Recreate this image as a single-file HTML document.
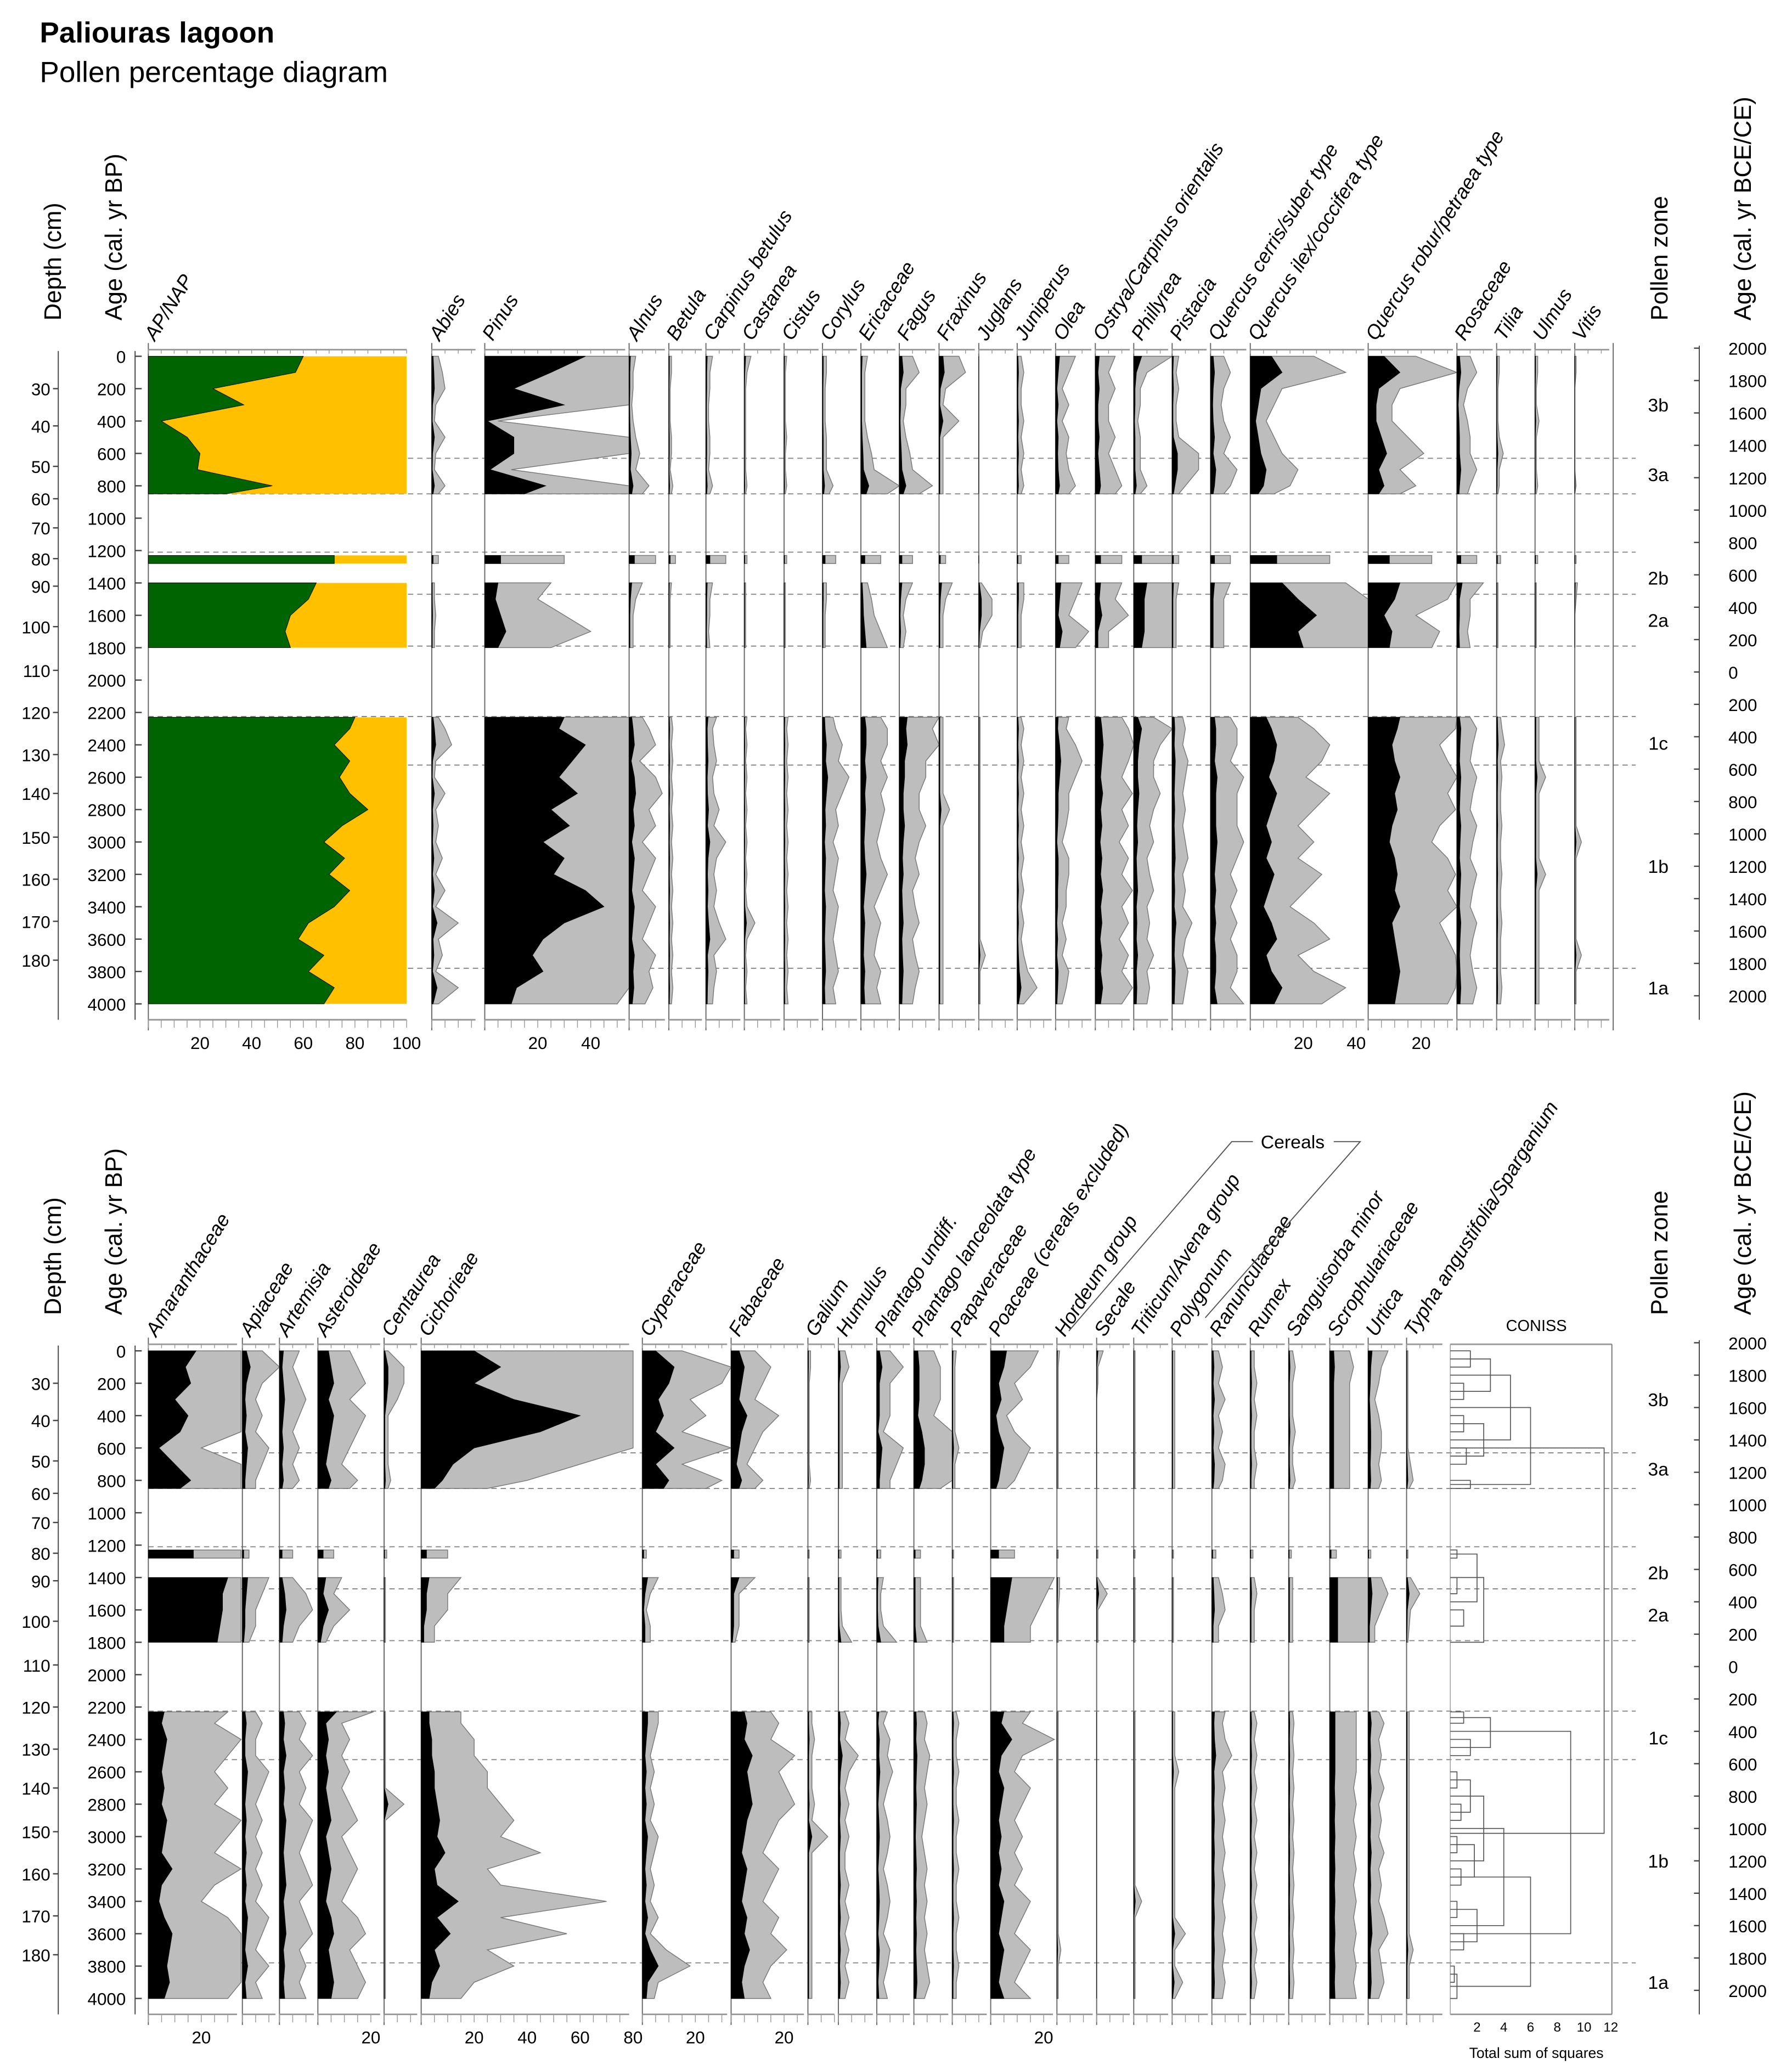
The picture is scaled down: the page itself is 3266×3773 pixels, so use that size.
<!DOCTYPE html>
<html><head><meta charset="utf-8"><style>
html,body{margin:0;padding:0;background:#fff;}
svg{display:block;font-family:"Liberation Sans",Arial,sans-serif;}
</style></head><body>
<svg id="chart" xmlns="http://www.w3.org/2000/svg" width="3266" height="3773" viewBox="0 0 1353 1563">
<rect x="0" y="0" width="1353" height="1563" fill="#fff"/>
<text x="30" y="32" font-size="22" font-weight="bold">Paliouras lagoon</text>
<text x="30" y="62" font-size="22">Pollen percentage diagram</text>
<g id="root"></g>
</svg>
<script>
const ages=[0,100,200,300,400,500,600,700,800,850,1230,1280,1400,1500,1600,1700,1800,2230,2300,2400,2500,2600,2700,2800,2900,3000,3100,3200,3300,3400,3500,3600,3700,3800,3900,4000];
const ap=[60,57,25,37,5,15,20,19,48,30,72,72,65,62,55,53,55,80,78,72,78,74,78,85,75,68,76,70,78,72,62,58,68,62,72,68];
const pinus=[38,25,11,30,1,11,11,2,23,15,6,6,5,4,6,8,5,30,28,38,33,28,35,25,32,22,30,26,38,45,30,22,18,22,12,10];
const abies=[0.5,0.8,1,0.3,0.2,1,0.3,0.2,1,0.5,0.5,0.5,0.2,0.2,0.3,0.2,0.2,0.5,1,1.5,0.3,0.2,1,0.3,0.5,0.3,0.8,0.3,1,0.3,2,0.5,0.8,0.3,2,0.5];
const alnus=[0.5,0.3,0.3,0.2,0.3,0.5,0.8,0.5,1.5,1,2,2,1,0.5,0.3,0.3,0.3,1,1.5,2,0.8,2,2.5,1.5,2,1,2,1.5,1,2,1.5,1,2,1.5,1.8,1.2];
const betula=[0.2,0.2,0.1,0.1,0.1,0.2,0.2,0.1,0.3,0.2,0.5,0.5,0.2,0.1,0.1,0.1,0.1,0.2,0.3,0.2,0.3,0.2,0.3,0.2,0.3,0.2,0.3,0.2,0.3,0.2,0.3,0.2,0.3,0.2,0.3,0.2];
const carpinus=[0.5,0.3,0.3,0.2,0.2,0.3,0.3,0.2,0.5,0.3,1.5,1.5,0.5,0.3,0.3,0.2,0.3,0.8,0.5,0.6,0.8,0.5,0.6,1,0.6,1.5,0.8,0.6,0.8,0.6,1,1.5,0.6,0.8,0.6,0.5];
const castanea=[0.5,0.2,0.1,0.1,0.1,0.1,0.1,0.1,0.2,0.1,0.2,0.2,0.1,0.1,0.1,0.1,0.1,0.2,0.1,0.2,0.1,0.2,0.1,0.2,0.1,0.2,0.1,0.2,0.1,0.2,0.8,0.2,0.1,0.2,0.1,0.2];
const cistus=[0.2,0.1,0.1,0.1,0.1,0.2,0.1,0.1,0.2,0.1,0.2,0.2,0.1,0.1,0.1,0.1,0.1,0.3,0.2,0.3,0.2,0.3,0.2,0.3,0.2,0.3,0.2,0.3,0.2,0.3,0.2,0.3,0.2,0.3,0.2,0.3];
const corylus=[0.3,0.3,0.2,0.2,0.2,0.3,0.3,0.3,0.8,0.5,1,1,0.3,0.3,0.2,0.2,0.2,0.8,1,1.5,1.2,2,1.5,1,1.2,0.8,1.2,1,0.8,1.2,1,0.8,1,1.2,0.8,1];
const ericaceae=[0.5,0.3,0.3,0.3,0.3,0.5,0.8,1,3,2,1.5,1.5,0.5,0.8,1,1.5,2,1.5,2,2,1.5,2,1.5,1.8,1.5,1.2,1.5,2,1.5,1,1.5,1.2,1,1.5,1.2,1.5];
const fagus=[1,1.5,0.5,0.5,0.3,0.5,0.8,1,2.5,1.5,1,1,1,0.5,0.3,0.5,0.3,3,2.5,3,2,2,1.5,1.5,2,1.5,1.2,1.5,1,1.2,1.5,1,1.2,1.5,1.2,1];
const fraxinus=[1.5,2,0.5,0.3,1.5,0.3,0.3,0.3,0.3,0.3,0.5,0.5,1,0.5,0.3,0.3,0.3,0.3,0.3,0.3,0.3,0.3,0.3,0.8,0.3,0.3,0.3,0.3,0.3,0.3,0.3,0.3,0.3,0.3,0.3,0.3];
const juglans=[0,0,0,0,0,0,0,0,0,0,0,0,0.2,1,1,0.3,0.1,0.1,0.1,0.1,0.1,0.1,0.1,0.1,0.1,0.1,0.1,0.1,0.1,0.1,0.1,0.1,0.5,0.1,0.1,0.1];
const juniperus=[0.3,0.5,0.3,0.3,0.5,0.3,0.5,0.3,0.5,0.3,0.3,0.3,0.5,0.5,0.3,0.3,0.3,0.3,0.5,0.3,0.5,0.3,0.5,0.3,0.5,0.3,0.5,0.3,0.5,0.3,0.5,0.3,0.5,0.8,1.5,0.5];
const olea=[1.5,1,0.5,1,0.5,1,0.8,1,1.5,1,1,1,2,1.5,1,2.5,1.5,1,0.8,1.5,2,1.5,1,1,0.8,0.5,1,1,0.8,0.8,0.5,0.8,0.5,1,0.8,0.5];
const ostrya=[1.5,1,1.5,1,1,1.5,1,1.5,2,1.5,2,2,2,1.5,2.5,1,1,2,2.5,3,2.5,2,2.8,2,2.5,1.8,2.5,2,2.8,2,2.5,1.8,2.5,2,2.8,2];
const phillyrea=[3,1,0.5,0.5,0.3,0.5,0.5,0.5,1,0.5,3,3,5,4,4,4,3,1.5,3,2,1.5,1.5,2,1.5,1.2,1.5,1,1.2,1.5,1,1.2,1,1.5,1,1.2,1];
const pistacia=[0.5,0.3,0.5,0.3,0.3,0.5,2,2,1,0.5,0.5,0.5,0.5,0.3,0.3,0.3,0.3,0.8,1,0.8,1.2,1,0.8,1,0.8,1,1.2,0.8,1,0.8,1.5,1,0.8,1.2,1,0.8];
const qcerris=[1,1.5,1,0.8,1,1.5,1,2,1.5,1,1.5,1.5,1.5,1,1,1,1,1.5,2,2,1.5,2.5,2,2,2,2.5,2,1.5,2,1.5,2,1.5,2,2,1.5,2.5];
const qilex=[8,12,4,3,2,3,4,6,5,3,10,10,12,18,25,18,20,6,8,10,9,7,10,8,6,8,6,9,7,5,8,10,6,8,12,9];
const qrobur=[6,12,4,3,3,5,7,4,6,4,8,8,12,10,6,9,8,12,11,9,10,12,10,11,9,8,10,11,10,12,9,10,11,12,11,10];
const rosaceae=[1,1.5,0.8,0.5,0.8,1,1,1.5,1,0.8,1.5,1.5,2,1,1,0.8,1,1,1.5,1.2,1,1.5,1.2,1,1.5,1.2,1,1.5,1.2,1,1.5,1.2,1,1.2,1.5,1.2];
const tilia=[0.2,0.2,0.1,0.1,0.1,0.2,0.5,0.2,0.2,0.1,0.3,0.3,0.1,0.1,0.1,0.1,0.1,0.3,0.4,0.6,0.3,0.4,0.3,0.3,0.4,0.3,0.3,0.4,0.3,0.3,0.4,0.3,0.3,0.3,0.4,0.3];
const ulmus=[0.2,0.2,0.1,0.1,0.3,0.1,0.1,0.1,0.2,0.1,0.2,0.2,0.1,0.1,0.1,0.1,0.1,0.3,0.3,0.3,0.3,0.8,0.3,0.3,0.3,0.3,0.3,0.8,0.3,0.3,0.3,0.3,0.3,0.3,0.3,0.3];
const vitis=[0.1,0.1,0,0,0,0,0,0,0.1,0,0.1,0.1,0.2,0.1,0,0,0,0.1,0.1,0.1,0.1,0.1,0.1,0.1,0.1,0.5,0.1,0.1,0.1,0.1,0.1,0.1,0.5,0.1,0.1,0.1];

const amaranth=[18,14,16,10,15,12,4,10,16,12,17,17,30,28,28,27,26,6,5,7,6,5,6,5,7,6,5,9,5,4,6,9,8,7,8,6];
const apiaceae=[1.5,3,1.5,1,1.5,1,2,1.5,1,1,0.5,0.5,2,1.5,1,1,0.5,1,1.5,1,1,2,1.5,1,1.5,1,1.5,1,1.5,1,2,1.5,1,2,1,1.5];
const artemisia=[1.5,1,1.5,2,1.5,1,1.5,1,1.5,1,1,1,1,2,2.5,1.5,1,1.5,2,1.5,2.5,1.5,2,1.5,2.5,2,1.5,2,2.5,1.5,2,2.5,1.5,2,1.5,2];
const asteroideae=[4,5,6,4,6,5,4,3,5,4,2,2,3,2,4,2,1,7,3,4,3,4,3,4,5,3,4,5,4,3,5,6,4,5,6,5];
const centaurea=[0.3,1.5,1.5,1,0.3,0.3,0.3,0.3,0.5,0.3,0.2,0.2,0.1,0.1,0.1,0.1,0.1,0.1,0.1,0.1,0.1,0.1,0.1,1.5,0.1,0.1,0.1,0.1,0.1,0.1,0.1,0.1,0.1,0.1,0.1,0.1];
const cichorieae=[20,30,20,35,60,45,20,12,8,5,2,2,3,2,2,1,1,3,3,4,4,5,5,6,7,6,9,5,6,14,6,11,5,7,4,3];
const cyperaceae=[5,12,10,6,8,5,12,5,10,8,0.5,0.5,2,1,0.5,1,1,2,2,1.5,1,1.5,1,1.5,1,2,1.5,1,1.5,1,2,1,3,6,2,1.5];
const fabaceae=[3,5,4,3,6,4,3,2,4,3,1,1,3,1,1,1,0.5,5,6,5,8,6,7,8,6,5,4,6,5,4,6,5,7,5,4,5];
const galium=[0.2,0.2,0.1,0.1,0.1,0.1,0.1,0.1,0.2,0.1,0.1,0.1,0.1,0.1,0.1,0.1,0.1,0.3,0.3,0.5,0.3,0.3,0.3,0.5,0.3,1.5,0.3,0.3,0.3,0.3,0.3,0.3,0.3,0.3,0.3,0.3];
const humulus=[0.5,0.8,0.3,0.3,0.3,0.3,0.3,0.3,0.3,0.3,0.2,0.2,0.2,0.2,0.2,0.3,1,0.5,0.8,0.5,1.5,0.8,0.5,0.8,0.5,0.8,0.5,0.5,0.8,0.5,0.8,0.5,0.8,0.5,0.8,0.5];
const plantago=[1,2,1,1,1,0.5,2,1.5,1,1,0.3,0.3,0.5,0.3,0.3,0.5,1.5,0.8,0.5,1,0.8,1.2,0.8,0.5,0.8,1,0.8,0.5,0.8,1,0.8,0.5,1,0.8,0.5,0.8];
const planceolata=[1.5,2,2,2,1.5,3,4,4,3,2,0.5,0.5,0.5,0.5,0.5,0.5,1,0.8,1,0.8,1.2,1,0.8,1,0.8,0.6,0.8,1,0.8,1,0.8,1,0.8,1,1.2,0.8];
const papaveraceae=[0.3,0.2,0.2,0.2,0.2,0.2,0.5,0.2,0.2,0.2,0.1,0.1,0.1,0.1,0.1,0.1,0.1,0.3,0.5,0.3,0.3,0.5,0.3,0.3,0.5,0.3,0.3,0.5,0.3,0.3,0.5,0.3,0.3,0.5,0.3,0.3];
const poaceae=[6,5,3,4,2,3,5,4,3,2,3,3,8,7,6,5,5,5,4,8,4,3,5,4,3,4,3,4,3,5,4,3,5,4,3,5];
const hordeum=[0.2,0.1,0.1,0.1,0.1,0.1,0.1,0.1,0.1,0.1,0.1,0.1,0.2,0.2,0.1,0.1,0.1,0.1,0.1,0.1,0.1,0.1,0.1,0.1,0.1,0.1,0.1,0.1,0.1,0.1,0.1,0.1,0.3,0.1,0.1,0.1];
const secale=[0.5,0.1,0.1,0,0,0,0,0,0,0,0.1,0.1,0.1,0.8,0.1,0.1,0.1,0,0,0,0,0,0,0,0,0,0,0,0,0,0,0,0,0,0,0];
const triticum=[0.1,0.1,0.1,0.1,0.1,0.1,0.1,0.1,0.1,0.1,0.1,0.1,0.1,0.1,0.1,0.1,0.1,0.1,0.1,0.1,0.1,0.1,0.1,0.1,0.1,0.1,0.1,0.1,0.1,0.6,0.1,0.1,0.1,0.1,0.1,0.1];
const polygonum=[0.2,0.2,0.2,0.2,0.2,0.2,0.2,0.2,0.2,0.2,0.1,0.1,0.1,0.1,0.1,0.1,0.1,0.2,0.2,0.2,0.2,0.5,0.2,0.2,0.2,0.2,0.2,0.2,0.2,0.2,0.2,1,0.2,0.2,0.8,0.2];
const ranunc=[0.5,0.8,0.5,1,0.5,0.8,0.5,1,0.8,0.5,0.3,0.3,0.5,0.8,1,0.5,0.5,1,0.8,1,1.5,0.8,1,0.8,1,0.8,1,0.8,1,0.8,1,0.8,1,0.8,1,0.8];
const rumex=[0.3,0.3,0.5,0.3,0.5,0.3,0.3,0.5,0.3,0.3,0.2,0.2,0.3,0.5,0.3,0.3,0.3,0.3,0.5,0.3,0.5,0.3,0.5,0.3,0.5,0.3,0.5,0.3,0.5,0.3,0.5,0.3,0.5,0.3,0.5,0.3];
const sanguisorba=[0.3,0.5,0.3,0.3,0.3,0.5,0.3,0.3,0.5,0.3,0.2,0.2,0.3,0.3,0.3,0.3,0.3,0.3,0.4,0.3,0.4,0.3,0.4,0.3,0.4,0.3,0.4,0.3,0.4,0.3,0.4,0.3,0.4,0.3,0.4,0.3];
const scroph=[1.5,1.8,1.5,1.5,1.5,1.5,1.5,1.5,1.5,1.5,0.5,0.5,3,3,3,3,3,2,2,2,2,2,1.8,2,1.8,2,1.8,2,1.8,2,1.8,2,1.8,2,1.8,2];
const urtica=[1.5,1,0.8,0.5,0.8,1,1,0.8,1,0.8,0.2,0.2,1,1.5,1,0.5,0.5,0.8,1.2,0.8,1,0.8,1.2,0.8,1,0.8,1.2,0.8,1,0.8,1.2,1.5,0.8,1,1.2,0.8];
const typha=[0.1,0.1,0.1,0.1,0.1,0.1,0.1,0.3,0.5,0.2,0.1,0.1,0.3,1,0.3,0.2,0.1,0.2,0.2,0.2,0.2,0.2,0.2,0.2,0.2,0.2,0.2,0.2,0.2,0.2,0.2,0.2,0.5,0.2,0.2,0.2];

const depthTicks=[30,40,50,60,70,80,90,100,110,120,130,140,150,160,170,180];
const depthTickAges=[200,430,680,880,1060,1250,1420,1670,1940,2200,2460,2700,2970,3230,3490,3730];
const ageTicks=[0,200,400,600,800,1000,1200,1400,1600,1800,2000,2200,2400,2600,2800,3000,3200,3400,3600,3800,4000];
const calTicks=[2000,1800,1600,1400,1200,1000,800,600,400,200,0,-200,-400,-600,-800,-1000,-1200,-1400,-1600,-1800,-2000];
const zoneBounds=[630,850,1210,1470,1790,2225,2525,3780];
const zoneNames=['3b','3a','2b','2a','1c','1b','1a'];
const zoneMidAges=[300,730,1370,1630,2390,3150,3900];
const conissMerges=[[0,100,1.5],[200,300,1],[400,500,1],[600,700,1.2],[50,250,3],[450,650,2.5],[800,850,1.5],[150,550,4.5],[350,825,6],[1230,1280,0.5],[1400,1500,0.5],[1600,1700,1],[1255,1550,2],[1400,1800,2.5],[2230,2300,1],[2400,2500,1.5],[2265,2450,3],[2600,2700,0.5],[2800,2900,0.8],[3000,3100,0.5],[3200,3300,0.8],[3400,3500,0.5],[3600,3700,1],[2650,2850,1.5],[3050,3250,1.8],[3450,3650,2],[2750,3150,2.5],[3800,3900,0.3],[2950,3550,4],[3850,4000,0.5],[3250,3925,6],[2350,3600,9],[600,2980,11.5]];

const NS='http://www.w3.org/2000/svg';
const root=document.getElementById('root');
function mk(tag,attrs,parent){const e=document.createElementNS(NS,tag);for(const k in attrs)e.setAttribute(k,attrs[k]);(parent||root).appendChild(e);return e;}
const Y0TOP=269, SC=0.12225, Y0BOT=1020;
function yAge(a,off){return off+a*SC;}
function segments(){const s=[];let cur=[0];for(let i=1;i<ages.length;i++){if(ages[i]-ages[i-1]>100){s.push(cur);cur=[];}cur.push(i);}s.push(cur);return s;}
const SEGS=segments();

function drawSeries(vals,x0,w,pxPer,factor,off,name,fillBlack){
  SEGS.forEach(seg=>{
    if(factor>0){
      let pts=[[x0,yAge(ages[seg[0]],off)]];
      seg.forEach(i=>pts.push([x0+Math.min(vals[i]*pxPer*factor,w),yAge(ages[i],off)]));
      pts.push([x0,yAge(ages[seg[seg.length-1]],off)]);
      const g=mk('polygon',{points:pts.map(p=>p[0].toFixed(1)+','+p[1].toFixed(1)).join(' '),fill:'#bdbdbd',stroke:'#777','stroke-width':0.6});
      
      
    }
    let pts=[[x0,yAge(ages[seg[0]],off)]];
    seg.forEach(i=>pts.push([x0+Math.min(vals[i]*pxPer,w),yAge(ages[i],off)]));
    pts.push([x0,yAge(ages[seg[seg.length-1]],off)]);
    const b=mk('polygon',{points:pts.map(p=>p[0].toFixed(1)+','+p[1].toFixed(1)).join(' '),fill:fillBlack||'#000',stroke:'#000','stroke-width':0.4});
    
    
  });
}
function colFrame(x0,w,off,name,pxPer){
  const top=off-5, bot=off+501;
  const l=mk('line',{x1:x0,y1:top-5,x2:x0,y2:bot+8,stroke:'#666','stroke-width':0.8});
  
  
  [top,bot].forEach(yy=>{
    const h=mk('line',{x1:x0,y1:yy,x2:x0+w-3,y2:yy,stroke:'#999','stroke-width':1.2});
    
    
    for(let t=0;t*pxPer*5<=w-3;t++){
      const tk=mk('line',{x1:x0+t*pxPer*5,y1:yy,x2:x0+t*pxPer*5,y2:yy+(yy===bot?6:3),stroke:'#999','stroke-width':0.6});
      
      
    }
  });
}
function header(x,y,label,italic){
  const t=mk('text',{x:0,y:0,transform:`translate(${x},${y}) rotate(-58)`,'font-size':15,'font-style':italic?'italic':'normal'});
  t.textContent=label;
  
  
}
function tickLabels(x0,pxPer,labels,y){
  labels.forEach(v=>{const t=mk('text',{x:x0+v*pxPer,y:y,'font-size':13,'text-anchor':'middle'});t.textContent=v;
    
    });
}
function sideAxes(off){
  const d=mk('line',{x1:44,y1:off-4,x2:44,y2:off+501,stroke:'#444','stroke-width':0.8});
  
  
  depthTicks.forEach((v,i)=>{const yy=yAge(depthTickAges[i],off);
    const tk=mk('line',{x1:40,y1:yy,x2:44,y2:yy,stroke:'#444'});
    
    
    const t=mk('text',{x:38,y:yy+5,'font-size':13,'text-anchor':'end'});t.textContent=v;
    
    });
  const a=mk('line',{x1:102,y1:off-4,x2:102,y2:off+501,stroke:'#444','stroke-width':0.8});
  
  
  ageTicks.forEach(v=>{const yy=yAge(v,off);
    const tk=mk('line',{x1:102,y1:yy,x2:107,y2:yy,stroke:'#444'});
    
    
    const t=mk('text',{x:95,y:yy+5,'font-size':13,'text-anchor':'end'});t.textContent=v;
    
    });
  const c=mk('line',{x1:1283,y1:off-8,x2:1283,y2:off+501,stroke:'#444','stroke-width':0.8});
  
  
  calTicks.forEach(v=>{const yy=yAge(1950-v,off);
    const tk=mk('line',{x1:1279,y1:yy,x2:1283,y2:yy,stroke:'#444'});
    
    
    const t=mk('text',{x:1305,y:yy+5,'font-size':13});t.textContent=Math.abs(v);
    
    });
  zoneBounds.forEach(b=>{const yy=yAge(b,off);
    const l=mk('line',{x1:112,y1:yy,x2:1235,y2:yy,stroke:'#888','stroke-width':0.8,'stroke-dasharray':'4,3'});
    
    });
  zoneNames.forEach((z,i)=>{const t=mk('text',{x:1252,y:yAge(zoneMidAges[i],off)+5,'font-size':14,'text-anchor':'middle'});t.textContent=z;
    
    });
  const vt=(x,y,txt,nm)=>{const t=mk('text',{x:0,y:0,transform:`translate(${x},${y}) rotate(-90)`,'font-size':18});t.textContent=txt;
    
    };
  vt(46,off-27,'Depth (cm)','depth-axis-title');
  vt(92,off-27,'Age (cal. yr BP)','age-axis-title');
  vt(1259,off-27,'Pollen zone','pollen-zone-title');
  vt(1322,off-27,'Age (cal. yr BCE/CE)','calendar-axis-title');
}

// ---------- TOP PANEL ----------
sideAxes(Y0TOP);
colFrame(112,198,Y0TOP,'ap-nap',1.95);
SEGS.forEach(seg=>{
  const y1=yAge(ages[seg[0]],Y0TOP), y2=yAge(ages[seg[seg.length-1]],Y0TOP);
  const o=mk('rect',{x:112,y:y1,width:195,height:y2-y1,fill:'#ffc000'});
  
  
});
drawSeries(ap,112,195,1.95,0,Y0TOP,'ap','#006400');
header(117,258,'AP/NAP',true);
tickLabels(112,1.95,[20,40,60,80,100],792);

const topCols=[
 ['Abies',abies,326,36,5],['Pinus',pinus,366,109,5],['Alnus',alnus,475,30,5],['Betula',betula,505,28,5],
 ['Carpinus betulus',carpinus,533,29,5],['Castanea',castanea,562,30,5],['Cistus',cistus,592,29,5],['Corylus',corylus,621,29,5],
 ['Ericaceae',ericaceae,650,29,5],['Fagus',fagus,679,30,5],['Fraxinus',fraxinus,709,30,5],['Juglans',juglans,739,29,5],
 ['Juniperus',juniperus,768,29,5],['Olea',olea,797,30,5],['Ostrya/Carpinus orientalis',ostrya,827,29,5],['Phillyrea',phillyrea,856,29,5],
 ['Pistacia',pistacia,885,29,5],['Quercus cerris/suber type',qcerris,914,30,5],['Quercus ilex/coccifera type',qilex,944,89,3],
 ['Quercus robur/petraea type',qrobur,1033,67,3],['Rosaceae',rosaceae,1100,30,5],['Tilia',tilia,1130,29,5],['Ulmus',ulmus,1159,30,5],['Vitis',vitis,1189,29,5]];
topCols.forEach(c=>{
  const nm=c[0].toLowerCase().replace(/[^a-z]+/g,'-');
  colFrame(c[2],c[3],Y0TOP,nm,2);
  drawSeries(c[1],c[2],c[3],2,c[4],Y0TOP,nm);
  header(c[2]+6,258,c[0],true);
});
{const l=mk('line',{x1:1218,y1:259,x2:1218,y2:778,stroke:'#666','stroke-width':0.8});

}
tickLabels(366,2,[20,40],792);
tickLabels(944,2,[20,40],792);
tickLabels(1033,2,[20],792);

// ---------- BOTTOM PANEL ----------
sideAxes(Y0BOT);
const botCols=[
 ['Amaranthaceae',amaranth,112,70,5],['Apiaceae',apiaceae,183,28,5],['Artemisia',artemisia,211,29,5],['Asteroideae',asteroideae,240,50,3],
 ['Centaurea',centaurea,290,28,5],['Cichorieae',cichorieae,318,160,5],['Cyperaceae',cyperaceae,485,67,3],['Fabaceae',fabaceae,552,58,3],
 ['Galium',galium,610,23,5],['Humulus',humulus,633,29,5],['Plantago undiff.',plantago,662,28,5],['Plantago lanceolata type',planceolata,690,29,5],
 ['Papaveraceae',papaveraceae,719,29,5],['Poaceae (cereals excluded)',poaceae,748,50,3],['Hordeum group',hordeum,798,30,5],['Secale',secale,828,28,5],
 ['Triticum/Avena group',triticum,856,29,5],['Polygonum',polygonum,885,30,5],['Ranunculaceae',ranunc,915,29,5],['Rumex',rumex,944,29,5],
 ['Sanguisorba minor',sanguisorba,973,31,5],['Scrophulariaceae',scroph,1004,29,5],['Urtica',urtica,1033,29,5],['Typha angustifolia/Sparganium',typha,1062,30,5]];
botCols.forEach(c=>{
  const nm=c[0].toLowerCase().replace(/[^a-z]+/g,'-');
  colFrame(c[2],c[3],Y0BOT,nm,2);
  drawSeries(c[1],c[2],c[3],2,c[4],Y0BOT,nm);
  header(c[2]+6,1010,c[0],true);
});
tickLabels(112,2,[20],1543);
tickLabels(240,2,[20],1543);
tickLabels(318,2,[20,40,60,80],1543);
tickLabels(485,2,[20],1543);
tickLabels(552,2,[20],1543);
tickLabels(748,2,[20],1543);

{const t=mk('text',{x:976,y:867,'font-size':14,'text-anchor':'middle'});t.textContent='Cereals';


const p=mk('polyline',{points:'946,862 930,862 807,1005',fill:'none',stroke:'#555','stroke-width':0.8});


const p2=mk('polyline',{points:'1007,862 1027,862 910,995',fill:'none',stroke:'#555','stroke-width':0.8});

}

const CX0=1095, CPX=10.1;
{const t=mk('text',{x:1160,y:1005,'font-size':12,'text-anchor':'middle'});t.textContent='CONISS';


const b=mk('line',{x1:1095,y1:1015,x2:1217,y2:1015,stroke:'#999','stroke-width':1.2});


const b2=mk('line',{x1:1095,y1:1521,x2:1217,y2:1521,stroke:'#999','stroke-width':1.2});


const r=mk('line',{x1:1217,y1:1015,x2:1217,y2:1521,stroke:'#777','stroke-width':0.8});


const lft=mk('line',{x1:1095,y1:1015,x2:1095,y2:1521,stroke:'#999','stroke-width':0.6});


[2,4,6,8,10,12].forEach(v=>{const tt=mk('text',{x:CX0+v*CPX,y:1534,'font-size':10,'text-anchor':'middle'});tt.textContent=v;
 
 });
const ts=mk('text',{x:1160,y:1554,'font-size':11,'text-anchor':'middle'});ts.textContent='Total sum of squares';

}
conissMerges.forEach(m=>{
  const ya=yAge(m[0],Y0BOT), yb=yAge(m[1],Y0BOT), x=CX0+m[2]*CPX;
  const p=mk('polyline',{points:`${CX0},${ya} ${x},${ya} ${x},${yb} ${CX0},${yb}`,fill:'none',stroke:'#555','stroke-width':0.7});
  
  
});
</script>
</body></html>
